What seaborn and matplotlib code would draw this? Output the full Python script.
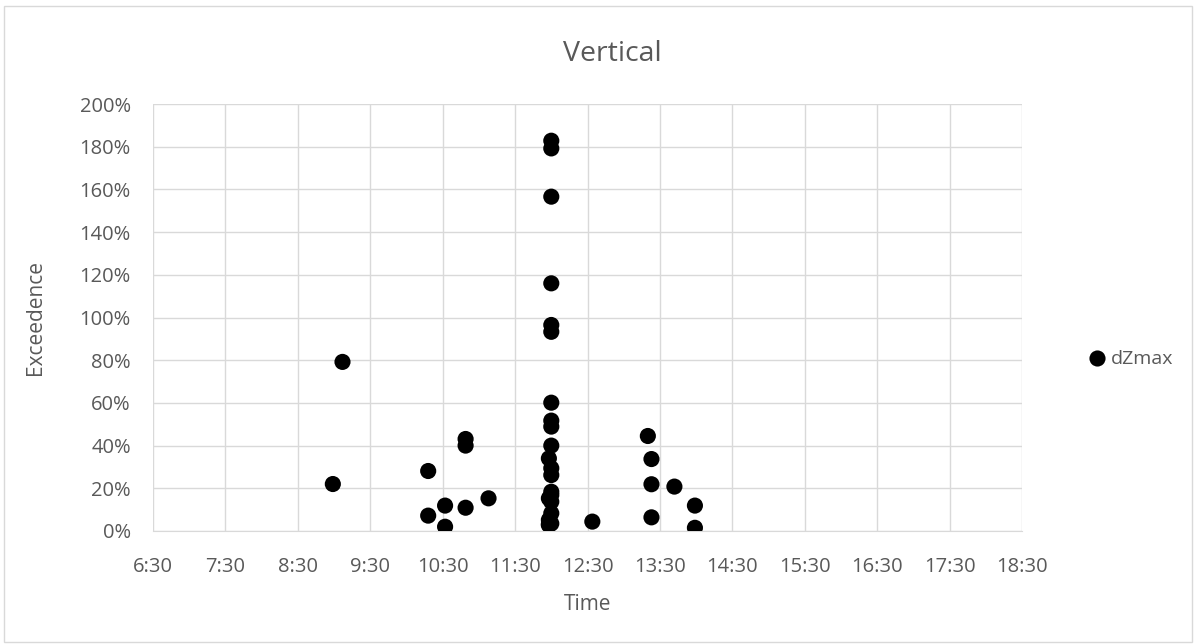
import numpy as np
import pandas as pd
import matplotlib
matplotlib.use('Agg')
import matplotlib.pyplot as plt
import seaborn as sns
from matplotlib.patches import Rectangle

# podaci ocitani sa slike (vrijeme, prekoracenje u %)
times = ['8:59', '9:07',
         '10:18', '10:18', '10:32', '10:32', '10:49', '10:49', '10:49', '11:08',
         '12:00', '12:00', '12:00', '12:00', '12:00', '12:00',
         '12:00', '12:00', '12:00', '12:00', '11:58', '12:00', '12:00',
         '12:00', '12:00', '11:58', '12:00', '12:00', '11:58', '12:00', '11:58', '11:58',
         '12:34', '13:20', '13:23', '13:23', '13:23', '13:42', '13:59', '13:59']
dzmax = [22.0, 79.2,
         28.1, 7.2, 11.9, 2.0, 43.1, 40.0, 10.9, 15.3,
         182.8, 179.2, 156.6, 116.0, 96.5, 93.3,
         60.1, 51.7, 48.9, 40.0, 34.0, 29.4, 26.2,
         18.4, 16.9, 15.3, 13.7, 8.3, 5.2, 3.5, 2.8, 3.2,
         4.4, 44.5, 33.7, 21.9, 6.4, 20.8, 11.9, 1.5]
xtick_labels = ['6:30', '7:30', '8:30', '9:30', '10:30', '11:30', '12:30',
                '13:30', '14:30', '15:30', '16:30', '17:30', '18:30']
ytick_vals = [0, 20, 40, 60, 80, 100, 120, 140, 160, 180, 200]

def to_hours(t):
    h, m = t.split(':')
    return int(h) + int(m) / 60

df = pd.DataFrame({'time': [to_hours(t) for t in times], 'dZmax': dzmax,
                   'series': 'dZmax'})

sns.set_style('white')
plt.rcParams['font.family'] = ['Open Sans', 'DejaVu Sans']
grey = '#595959'

fig = plt.figure(figsize=(11.95, 6.44), dpi=100)
ax = fig.add_axes([153 / 1195, 1 - 531 / 644, (1022 - 153) / 1195, (531 - 104) / 644])

sns.scatterplot(data=df, x='time', y='dZmax', hue='series', palette=['black'],
                s=135, edgecolor='black', linewidth=0, ax=ax, zorder=3)

xticks = [to_hours(t) for t in xtick_labels]
ax.set_xlim(xticks[0], xticks[-1])
ax.set_ylim(0, 200)
ax.set_xticks(xticks)
ax.set_xticklabels(xtick_labels)
ax.set_yticks(ytick_vals)
ax.set_yticklabels([f'{v}%' for v in ytick_vals])
ax.grid(True, color='#d9d9d9', linewidth=1)
for s in ['top', 'right', 'left']:
    ax.spines[s].set_visible(False)
ax.spines['bottom'].set_color('#d9d9d9')
ax.tick_params(axis='both', colors=grey, labelsize=14.5, length=0)
ax.tick_params(axis='x', pad=19)
ax.tick_params(axis='y', pad=16)

ax.set_xlabel('Time', color=grey, fontsize=15, labelpad=12)
ax.set_ylabel('Exceedence', color=grey, fontsize=15, labelpad=24)
fig.text(612 / 1195, 1 - 54 / 644, 'Vertical', color=grey, fontsize=20.5,
         ha='center', va='center')

leg = ax.legend(loc='center left', bbox_to_anchor=(1.066, 0.402), frameon=False,
                fontsize=14, handlelength=1.0, handletextpad=0.2,
                borderaxespad=0, markerscale=1.0)
for t in leg.get_texts():
    t.set_color(grey)

# okvir grafikona
fig.patches.append(Rectangle((4 / 1195, 2 / 644), 1188 / 1195, 636 / 644,
                             transform=fig.transFigure, fill=False,
                             edgecolor='#d9d9d9', linewidth=1))

fig.savefig('out.png', dpi=100, facecolor='white')
